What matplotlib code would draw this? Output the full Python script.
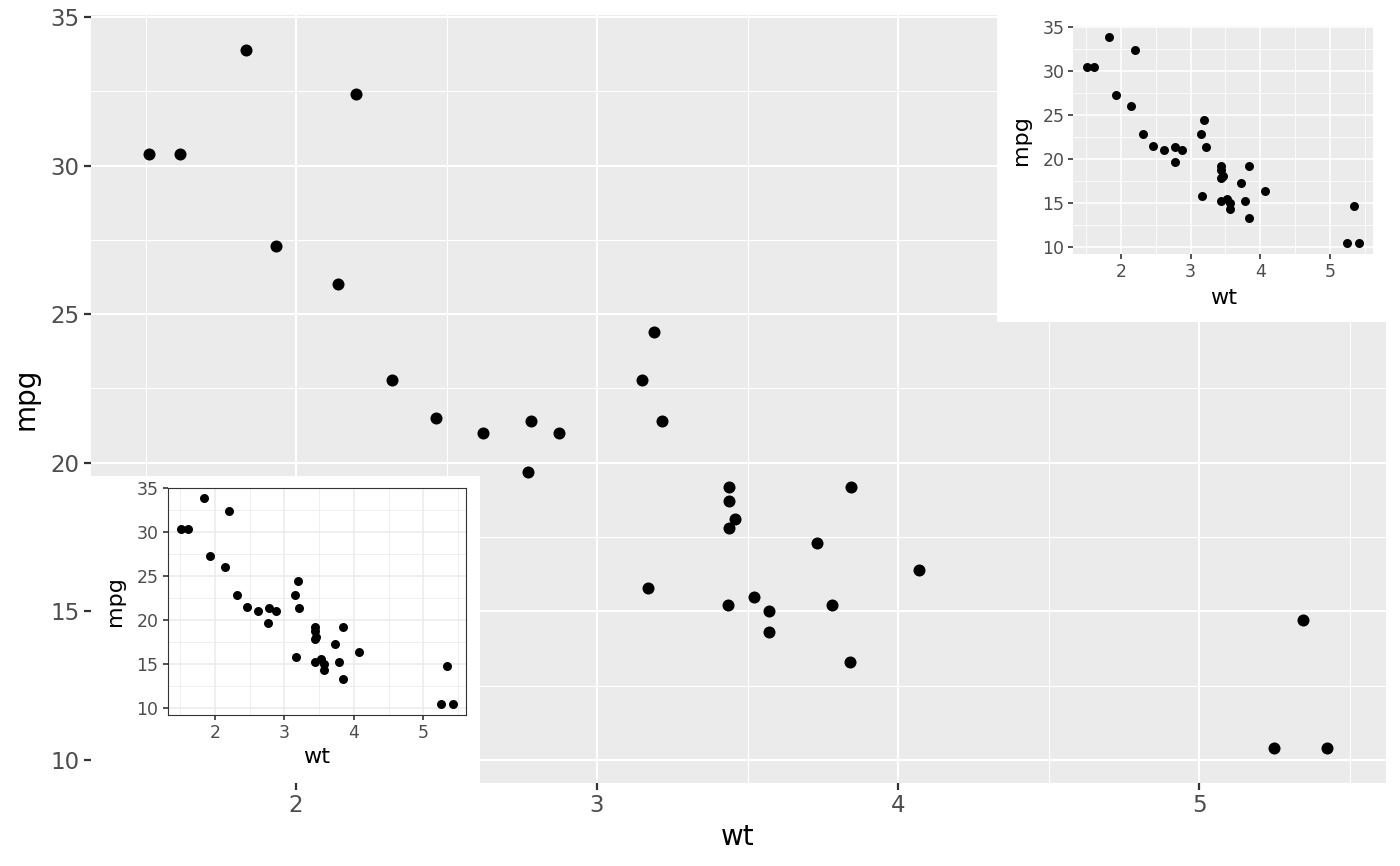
import numpy as np
import matplotlib
matplotlib.use("Agg")
import matplotlib.pyplot as plt
from matplotlib.patches import Rectangle
from matplotlib.ticker import MultipleLocator

# mtcars: weight (1000 lbs) and miles per gallon
wt = [2.620, 2.875, 2.320, 3.215, 3.440, 3.460, 3.570, 3.190, 3.150, 3.440,
      3.440, 4.070, 3.730, 3.780, 5.250, 5.424, 5.345, 2.200, 1.615, 1.835,
      2.465, 3.520, 3.435, 3.840, 3.845, 1.935, 2.140, 1.513, 3.170, 2.770,
      3.570, 2.780]
mpg = [21.0, 21.0, 22.8, 21.4, 18.7, 18.1, 14.3, 24.4, 22.8, 19.2,
       17.8, 16.4, 17.3, 15.2, 10.4, 10.4, 14.7, 32.4, 30.4, 33.9,
       21.5, 15.5, 15.2, 13.3, 19.2, 27.3, 26.0, 30.4, 15.8, 19.7,
       15.0, 21.4]
x_ticks = [2, 3, 4, 5]
y_ticks = [10, 15, 20, 25, 30, 35]

W, H = 1400, 866


def frac(x0, y0, x1, y1):
    # pixel box (top-left origin) -> figure fraction [l, b, w, h]
    return [x0 / W, (H - y1) / H, (x1 - x0) / W, (y1 - y0) / H]


def limits():
    xr = max(wt) - min(wt)
    yr = max(mpg) - min(mpg)
    return (min(wt) - 0.05 * xr, max(wt) + 0.05 * xr), (min(mpg) - 0.05 * yr, max(mpg) + 0.05 * yr)


def style(ax, face, grid, tick_fs, title_fs, tick_len, tick_w, major_lw, minor_lw,
          point_s, xpad, ypad, border=None):
    ax.set_facecolor(face)
    xl, yl = limits()
    ax.scatter(wt, mpg, s=point_s, color="black", linewidths=0, zorder=3)
    ax.set_xlim(*xl)
    ax.set_ylim(*yl)
    ax.set_xticks(x_ticks)
    ax.set_yticks(y_ticks)
    ax.xaxis.set_minor_locator(MultipleLocator(0.5))
    ax.yaxis.set_minor_locator(MultipleLocator(2.5))
    ax.grid(True, which="major", color=grid, lw=major_lw)
    ax.grid(True, which="minor", color=grid, lw=minor_lw)
    ax.set_axisbelow(True)
    ax.tick_params(which="major", length=tick_len, width=tick_w, color="#333333",
                   labelcolor="#4D4D4D", labelsize=tick_fs, pad=3)
    ax.tick_params(which="minor", length=0)
    for sp in ax.spines.values():
        if border is None:
            sp.set_visible(False)
        else:
            sp.set_color(border)
            sp.set_linewidth(0.8)
    ax.set_xlabel("wt", fontsize=title_fs, labelpad=xpad)
    ax.set_ylabel("mpg", fontsize=title_fs, labelpad=ypad)


fig = plt.figure(figsize=(14, 8.66), dpi=100)

# main plot
ax = fig.add_axes(frac(90.6, 14.8, 1385.5, 783.0), zorder=0)
style(ax, "#EBEBEB", "white", 16.5, 20, 5, 1.6, 1.5, 0.75, 75, 4, 8)

# top-right inset (grey theme)
fig.add_artist(Rectangle((997 / W, (H - 322) / H), (1385.5 - 997) / W, 322 / H,
                         transform=fig.transFigure, facecolor="white",
                         edgecolor="none", zorder=1))
ax_tr = fig.add_axes(frac(1073.4, 26.3, 1373.0, 253.8), zorder=2)
style(ax_tr, "#EBEBEB", "white", 12.5, 16, 3.5, 1.2, 1.1, 0.55, 42, 5.5, 8.5)

# bottom-left inset (bw theme)
fig.add_artist(Rectangle((90.6 / W, (H - 783.0) / H), (480 - 90.6) / W, (783.0 - 476) / H,
                         transform=fig.transFigure, facecolor="white",
                         edgecolor="none", zorder=1))
ax_bl = fig.add_axes(frac(167.6, 487.6, 466.3, 714.5), zorder=2)
style(ax_bl, "white", "#EBEBEB", 12.5, 16, 3.5, 1.2, 1.1, 0.55, 42, 4, 8, border="#333333")

fig.savefig("out.png", dpi=100)
